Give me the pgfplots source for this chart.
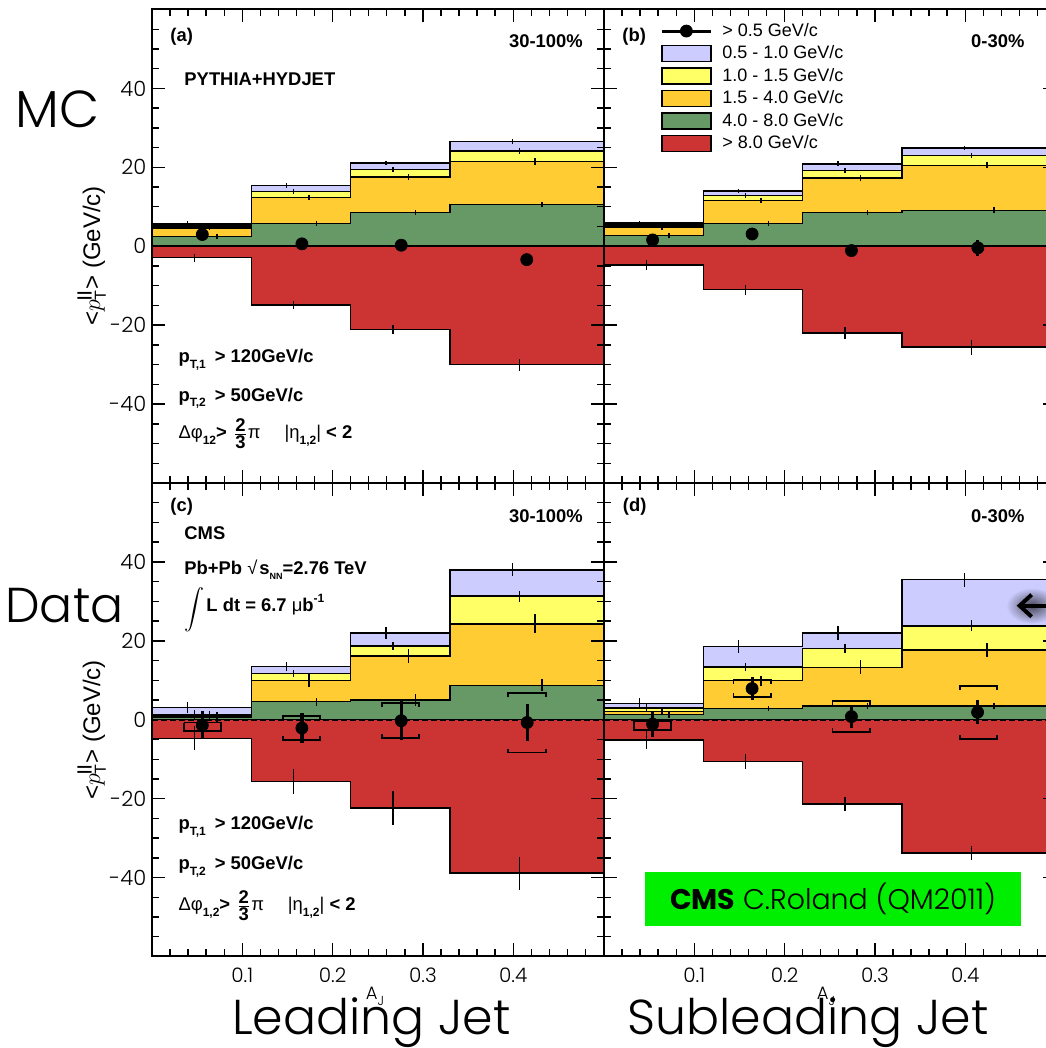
\documentclass[border=0pt]{standalone}
\usepackage{pgfplots}
\pgfplotsset{compat=1.18}
\usetikzlibrary{arrows.meta}
\usepackage{fontspec}
\setmainfont{Liberation Sans}
\newfontfamily\gothicR{Poppins}
\IfFontExistsTF{Poppins Light}{\newfontfamily\gothic{Poppins Light}}{\newfontfamily\gothic{Poppins}}
\definecolor{cLav}{RGB}{204,204,255}
\definecolor{cYel}{RGB}{255,255,102}
\definecolor{cOra}{RGB}{255,204,51}
\definecolor{cGrn}{RGB}{102,153,102}
\definecolor{cRed}{RGB}{204,51,51}
\definecolor{cmsgreen}{RGB}{0,238,0}
\newcommand{\fs}[1]{\fontsize{#1}{#1}\selectfont}
\newcommand{\sub}[1]{\raisebox{-0.6ex}{\fs{6}\bfseries #1}}

\pgfplotsset{
  panel/.style={
    scale only axis, width=225.75pt, height=236.75pt,
    xmin=0, xmax=0.5, ymin=-60, ymax=60,
    xtick={0,0.1,0.2,0.3,0.4,0.5}, minor x tick num=4,
    ytick={-60,-40,-20,0,20,40,60}, minor y tick num=3,
    xticklabels={}, yticklabels={},
    tick align=inside, tick pos=both,
    major tick length=6.5pt, minor tick length=3.5pt,
    every tick/.style={black, line width=0.7pt},
    axis line style={line width=1pt},
    axis on top, clip mode=individual,
  },
  leftp/.style={yticklabels={,-40,-20,0,20,40,},
     yticklabel style={font=\gothic\fs{10.5}, inner sep=0pt, xshift=-2.7pt}},
  botp/.style={xticklabels={,0.1,0.2,0.3,0.4,},
     xticklabel style={font=\gothic\fs{10}, inner sep=0pt, yshift=-5.5pt}},
  hist/.style={const plot mark left, draw=black, line width=0.75pt, forget plot},
  cerr/.style={forget plot, draw=none, mark=none, error bars/.cd, y dir=both, y explicit, error mark=none, error bar style={draw=black, line width=0.7pt, solid}},
  pts/.style={forget plot, only marks, mark=*, mark size=3pt, black, error bars/.cd, y dir=both, y explicit, error mark=none, error bar style={line width=1.6pt, black}},
  sys/.style={forget plot, black, line width=0.9pt, unbounded coords=jump, mark=none},
  zero/.style={forget plot, black, line width=1pt, dash pattern=on 3pt off 1.5pt},
}
\tikzset{txt/.style={inner sep=0pt, font=\bfseries\fs{9.2}}}

\begin{document}
\begin{tikzpicture}
%================ (a) =================
\begin{axis}[panel, leftp, at={(76pt,282.5pt)}, anchor=south west]
\addplot[hist, fill=cLav] coordinates {(0,5.75)(0.11,15.4)(0.22,21.1)(0.33,26.5)(0.5,26.5)} \closedcycle;
\addplot[hist, fill=cYel] coordinates {(0,5.3)(0.11,13.9)(0.22,19.4)(0.33,24.1)(0.5,24.1)} \closedcycle;
\addplot[hist, fill=cOra] coordinates {(0,4.6)(0.11,12.4)(0.22,17.5)(0.33,21.5)(0.5,21.5)} \closedcycle;
\addplot[hist, fill=cGrn] coordinates {(0,2.5)(0.11,5.8)(0.22,8.5)(0.33,10.6)(0.5,10.6)} \closedcycle;
\addplot[hist, fill=cRed] coordinates {(0,-2.9)(0.11,-14.9)(0.22,-21.1)(0.33,-30.0)(0.5,-30.0)} \closedcycle;
\addplot[forget plot, black, line width=2.6pt] coordinates {(0,5.2)(0.11,5.2)};
\addplot[cerr] coordinates {
 (0.039,5.75) +- (0,0.6) (0.047,5.3) +- (0,0.6) (0.064,4.6) +- (0,0.6) (0.072,2.5) +- (0,0.6) (0.047,-2.9) +- (0,1.0)
 (0.149,15.4) +- (0,0.6) (0.157,13.9) +- (0,0.6) (0.174,12.4) +- (0,0.6) (0.182,5.8) +- (0,0.6) (0.157,-14.9) +- (0,1.0)
 (0.259,21.1) +- (0,0.6) (0.267,19.4) +- (0,0.6) (0.284,17.5) +- (0,0.7) (0.292,8.5) +- (0,0.6) (0.267,-21.1) +- (0,1.2)
 (0.399,26.5) +- (0,0.6) (0.407,24.1) +- (0,0.7) (0.424,21.5) +- (0,0.8) (0.432,10.6) +- (0,0.7) (0.407,-30.0) +- (0,1.5)};
\addplot[zero] coordinates {(0,0)(0.5,0)};
\addplot[pts] coordinates {(0.0557,2.97) +- (0,0.5) (0.166,0.6) +- (0,0.5) (0.276,0.26) +- (0,0.5) (0.415,-3.4) +- (0,0.5)};
\node[txt, anchor=west] at (rel axis cs:0.040,0.942) {(a)};
\node[txt, anchor=east] at (rel axis cs:0.955,0.934) {30-100\%};
\node[txt, anchor=west] at (rel axis cs:0.071,0.853) {PYTHIA+HYDJET};
\node[txt, anchor=base west] at (rel axis cs:0.058,0.2534) {p\sub{T,1}\hspace{4.5pt}> 120GeV/c};
\node[txt, anchor=base west] at (rel axis cs:0.058,0.173) {p\sub{T,2}\hspace{4.5pt}> 50GeV/c};
\node[txt, anchor=base west] at (rel axis cs:0.058,0.094) {{\mdseries Δφ}\sub{12}>\hspace{3pt}$\frac{\mbox{\bfseries 2}}{\mbox{\bfseries 3}}${\mdseries π}\hspace{12pt}{\mdseries |η}\sub{1,2}{\mdseries |} < 2};
\end{axis}
%================ (b) =================
\begin{axis}[panel, at={(302pt,282.5pt)}, anchor=south west,
  legend style={at={(0.124,0.979)}, anchor=north west, draw=none, fill=none, inner sep=0pt, row sep=0pt,
    font=\fs{9}, nodes={inner sep=0pt, minimum height=11.25pt},
    /tikz/every odd column/.append style={column sep=5pt}},
  legend cell align=left]
\addlegendimage{legend image code/.code={\draw[line width=1.5pt] (0pt,0pt)--(24.5pt,0pt); \fill (12.25pt,0pt) circle (3pt);}}
\addlegendimage{legend image code/.code={\draw[fill=cLav, line width=0.9pt] (0pt,-4pt) rectangle (24.5pt,4pt);}}
\addlegendimage{legend image code/.code={\draw[fill=cYel, line width=0.9pt] (0pt,-4pt) rectangle (24.5pt,4pt);}}
\addlegendimage{legend image code/.code={\draw[fill=cOra, line width=0.9pt] (0pt,-4pt) rectangle (24.5pt,4pt);}}
\addlegendimage{legend image code/.code={\draw[fill=cGrn, line width=0.9pt] (0pt,-4pt) rectangle (24.5pt,4pt);}}
\addlegendimage{legend image code/.code={\draw[fill=cRed, line width=0.9pt] (0pt,-4pt) rectangle (24.5pt,4pt);}}
\addplot[hist, fill=cLav] coordinates {(0,5.9)(0.11,14.0)(0.22,20.9)(0.33,24.9)(0.5,24.9)} \closedcycle;
\addplot[hist, fill=cYel] coordinates {(0,5.4)(0.11,12.9)(0.22,19.2)(0.33,23.0)(0.5,23.0)} \closedcycle;
\addplot[hist, fill=cOra] coordinates {(0,4.8)(0.11,11.6)(0.22,17.3)(0.33,20.5)(0.5,20.5)} \closedcycle;
\addplot[hist, fill=cGrn] coordinates {(0,2.7)(0.11,5.7)(0.22,8.5)(0.33,9.1)(0.5,9.1)} \closedcycle;
\addplot[hist, fill=cRed] coordinates {(0,-4.7)(0.11,-11.0)(0.22,-22.0)(0.33,-25.6)(0.5,-25.6)} \closedcycle;
\addplot[forget plot, black, line width=3.2pt] coordinates {(0,5.35)(0.11,5.35)};
\addplot[cerr] coordinates {
 (0.039,5.9) +- (0,0.6) (0.047,5.4) +- (0,0.6) (0.064,4.8) +- (0,0.6) (0.072,2.7) +- (0,0.6) (0.047,-4.7) +- (0,1.3)
 (0.149,14.0) +- (0,0.6) (0.157,12.9) +- (0,0.6) (0.174,11.6) +- (0,0.6) (0.182,5.7) +- (0,0.6) (0.157,-11.0) +- (0,1.3)
 (0.259,20.9) +- (0,0.6) (0.267,19.2) +- (0,0.6) (0.284,17.3) +- (0,0.7) (0.292,8.5) +- (0,0.6) (0.267,-22.0) +- (0,1.6)
 (0.399,24.9) +- (0,0.6) (0.407,23.0) +- (0,0.7) (0.424,20.5) +- (0,0.8) (0.432,9.1) +- (0,0.8) (0.407,-25.6) +- (0,1.9)};
\addplot[zero] coordinates {(0,0)(0.5,0)};
\addplot[pts] coordinates {(0.0538,1.6) +- (0,0.5) (0.164,3.1) +- (0,0.5) (0.274,-1.1) +- (0,0.6) (0.414,-0.4) +- (0,2.1)};
\legend{> 0.5 GeV/c, 0.5 - 1.0 GeV/c, 1.0 - 1.5 GeV/c, 1.5 - 4.0 GeV/c, 4.0 - 8.0 GeV/c, > 8.0 GeV/c}
\node[txt, anchor=west] at (rel axis cs:0.040,0.942) {(b)};
\node[txt, anchor=east] at (rel axis cs:0.932,0.934) {0-30\%};
\end{axis}
%================ (c) =================
\begin{axis}[panel, leftp, botp, at={(76pt,45.75pt)}, anchor=south west]
\addplot[hist, fill=cLav] coordinates {(0,3.1)(0.11,13.5)(0.22,22.0)(0.33,38.0)(0.5,38.0)} \closedcycle;
\addplot[hist, fill=cYel] coordinates {(0,1.3)(0.11,11.7)(0.22,18.7)(0.33,31.3)(0.5,31.3)} \closedcycle;
\addplot[hist, fill=cOra] coordinates {(0,1.0)(0.11,9.9)(0.22,16.1)(0.33,24.3)(0.5,24.3)} \closedcycle;
\addplot[hist, fill=cGrn] coordinates {(0,0.7)(0.11,4.6)(0.22,5.0)(0.33,8.7)(0.5,8.7)} \closedcycle;
\addplot[hist, fill=cRed] coordinates {(0,-4.7)(0.11,-15.7)(0.22,-22.4)(0.33,-38.9)(0.5,-38.9)} \closedcycle;
\addplot[cerr] coordinates {
 (0.039,3.1) +- (0,1.4) (0.047,1.3) +- (0,1.2) (0.064,1.0) +- (0,1.2) (0.072,0.7) +- (0,1.2) (0.047,-4.7) +- (0,3.0)
 (0.149,13.5) +- (0,1.1) (0.157,11.7) +- (0,0.8) (0.174,9.9) +- (0,1.6) (0.182,4.6) +- (0,1.0) (0.157,-15.7) +- (0,3.2)
 (0.259,22.0) +- (0,1.6) (0.267,18.7) +- (0,1.0) (0.284,16.1) +- (0,1.8) (0.292,5.0) +- (0,1.6) (0.267,-22.4) +- (0,4.4)
 (0.399,38.0) +- (0,1.6) (0.407,31.3) +- (0,1.4) (0.424,24.3) +- (0,2.4) (0.432,8.7) +- (0,1.5) (0.407,-38.9) +- (0,4.2)};
\addplot[zero] coordinates {(0,0)(0.5,0)};
\addplot[sys] coordinates {
 (0.035,-0.7)(0.076,-0.7)(0.076,-2.8)(0.035,-2.8)(0.035,-0.7) (0.035,nan)
 (0.1447,0.0)(0.1447,1.0)(0.186,1.0)(0.186,0.0) (0.186,nan)
 (0.1447,-4.1)(0.1447,-5.1)(0.186,-5.1)(0.186,-4.1) (0.186,nan)
 (0.255,3.2)(0.255,4.2)(0.296,4.2)(0.296,3.2) (0.296,nan)
 (0.255,-3.7)(0.255,-4.7)(0.296,-4.7)(0.296,-3.7) (0.296,nan)
 (0.3946,5.7)(0.3946,6.7)(0.436,6.7)(0.436,5.7) (0.436,nan)
 (0.3946,-7.3)(0.3946,-8.3)(0.436,-8.3)(0.436,-7.3)};
\addplot[pts] coordinates {(0.0557,-1.4) +- (0,3.5) (0.166,-2.1) +- (0,3.7) (0.276,-0.25) +- (0,5.0) (0.4155,-0.7) +- (0,4.7)};
\node[txt, anchor=west] at (rel axis cs:0.040,0.950) {(c)};
\node[txt, anchor=east] at (rel axis cs:0.955,0.929) {30-100\%};
\node[txt, anchor=west] at (rel axis cs:0.071,0.894) {CMS};
\node[txt, anchor=base west] at (rel axis cs:0.071,0.806) {Pb+Pb {\mdseries √}\kern1pt s\raisebox{-0.5ex}{\fs{4.5}NN}=2.76 TeV};
\node[txt, anchor=base west] at (rel axis cs:0.071,0.728) {\raisebox{-0.3ex}{$\displaystyle\int$}\kern1pt L dt = 6.7 {\mdseries μ}b\raisebox{1ex}{\fs{6}-1}};
\node[txt, anchor=base west] at (rel axis cs:0.058,0.2672) {p\sub{T,1}\hspace{4.5pt}> 120GeV/c};
\node[txt, anchor=base west] at (rel axis cs:0.058,0.1827) {p\sub{T,2}\hspace{4.5pt}> 50GeV/c};
\node[txt, anchor=base west] at (rel axis cs:0.058,0.0967) {{\mdseries Δφ}\sub{1,2}>\hspace{3pt}$\frac{\mbox{\bfseries 2}}{\mbox{\bfseries 3}}${\mdseries π}\hspace{12pt}{\mdseries |η}\sub{1,2}{\mdseries |} < 2};
\end{axis}
%================ (d) =================
\begin{axis}[panel, botp, at={(302pt,45.75pt)}, anchor=south west]
\addplot[hist, fill=cLav] coordinates {(0,4.1)(0.11,18.6)(0.22,22.0)(0.33,35.5)(0.5,35.5)} \closedcycle;
\addplot[hist, fill=cYel] coordinates {(0,3.0)(0.11,13.4)(0.22,18.1)(0.33,23.8)(0.5,23.8)} \closedcycle;
\addplot[hist, fill=cOra] coordinates {(0,2.1)(0.11,9.9)(0.22,13.3)(0.33,17.7)(0.5,17.7)} \closedcycle;
\addplot[hist, fill=cGrn] coordinates {(0,1.3)(0.11,2.8)(0.22,3.5)(0.33,3.5)(0.5,3.5)} \closedcycle;
\addplot[hist, fill=cRed] coordinates {(0,-5.1)(0.11,-10.6)(0.22,-21.4)(0.33,-33.8)(0.5,-33.8)} \closedcycle;
\addplot[cerr] coordinates {
 (0.039,4.1) +- (0,1.5) (0.047,3.0) +- (0,1.0) (0.064,2.1) +- (0,1.0) (0.072,1.3) +- (0,0.8) (0.047,-5.1) +- (0,2.2)
 (0.149,18.6) +- (0,1.7) (0.157,13.4) +- (0,1.1) (0.174,9.9) +- (0,1.3) (0.182,2.8) +- (0,0.6) (0.157,-10.6) +- (0,2.0)
 (0.259,22.0) +- (0,1.7) (0.267,18.1) +- (0,1.2) (0.284,13.3) +- (0,1.8) (0.292,3.5) +- (0,0.7) (0.267,-21.4) +- (0,1.7)
 (0.399,35.5) +- (0,1.8) (0.407,23.8) +- (0,1.4) (0.424,17.7) +- (0,1.8) (0.432,3.5) +- (0,0.8) (0.407,-33.8) +- (0,1.8)};
\addplot[zero] coordinates {(0,0)(0.5,0)};
\addplot[sys] coordinates {
 (0.0336,-0.25)(0.0742,-0.25)(0.0742,-2.5)(0.0336,-2.5)(0.0336,-0.25) (0.0336,nan)
 (0.1435,9.1)(0.1435,10.1)(0.185,10.1)(0.185,9.1) (0.185,nan)
 (0.1435,6.7)(0.1435,5.7)(0.185,5.7)(0.185,6.7) (0.185,nan)
 (0.253,3.8)(0.253,4.8)(0.2946,4.8)(0.2946,3.8) (0.2946,nan)
 (0.253,-2.2)(0.253,-3.2)(0.2946,-3.2)(0.2946,-2.2) (0.2946,nan)
 (0.394,7.6)(0.394,8.6)(0.435,8.6)(0.435,7.6) (0.435,nan)
 (0.394,-3.9)(0.394,-4.9)(0.435,-4.9)(0.435,-3.9)};
\addplot[pts] coordinates {(0.0538,-1.1) +- (0,3.3) (0.164,7.9) +- (0,3.0) (0.274,0.8) +- (0,2.8) (0.4137,1.9) +- (0,3.0)};
\shade[inner color=black!65!cLav, outer color=cLav] (axis cs:0.474,28.9) ellipse [x radius=13pt, y radius=9pt];
\draw[line width=2pt, -{Straight Barb[length=6pt,width=11pt,line width=2pt]}] (axis cs:0.5,28.9) -- (axis cs:0.457,28.9);
\node[txt, anchor=west] at (rel axis cs:0.041,0.950) {(d)};
\node[txt, anchor=east] at (rel axis cs:0.932,0.929) {0-30\%};
\node[fill=cmsgreen, minimum width=187.85pt, minimum height=26.7pt, inner sep=0pt, font=\gothic\fs{14.2}] at (rel axis cs:0.5075,0.1215) {{\gothicR\bfseries CMS} C.Roland (QM2011)};
\end{axis}
%================ outer labels =================
\node[anchor=west, inner sep=0pt, font=\gothic\fs{26}] at (7.5pt,469.5pt) {MC};
\node[anchor=west, inner sep=0pt, font=\gothic\fs{24.5}] at (2.5pt,221.25pt) {Data};
\node[rotate=90, anchor=base, inner sep=0pt, font=\fs{12}] at (50pt,396pt) {<$p^{\mbox{\fs{7.5}\bfseries ||}}_{\mathrm{T}}$> (GeV/c)};
\node[rotate=90, anchor=base, inner sep=0pt, font=\fs{12}] at (50pt,159pt) {<$p^{\mbox{\fs{7.5}\bfseries ||}}_{\mathrm{T}}$> (GeV/c)};
\node[anchor=base, inner sep=0pt, font=\gothic\fs{9}] at (187.5pt,24pt) {A\raisebox{-0.6ex}{\fs{6.5}J}};
\node[anchor=base, inner sep=0pt, font=\gothic\fs{9}] at (413pt,24pt) {A\raisebox{-0.6ex}{\fs{6.5}J}};
\node[anchor=base, inner sep=0pt, font=\gothic\fs{24.5}] at (185.75pt,6.5pt) {Leading Jet};
\node[anchor=base, inner sep=0pt, font=\gothic\fs{24.5}] at (404pt,6.5pt) {Subleading Jet};
\pgfresetboundingbox
\path[use as bounding box] (0pt,0pt) rectangle (522.5pt,524pt);
\end{tikzpicture}
\end{document}
